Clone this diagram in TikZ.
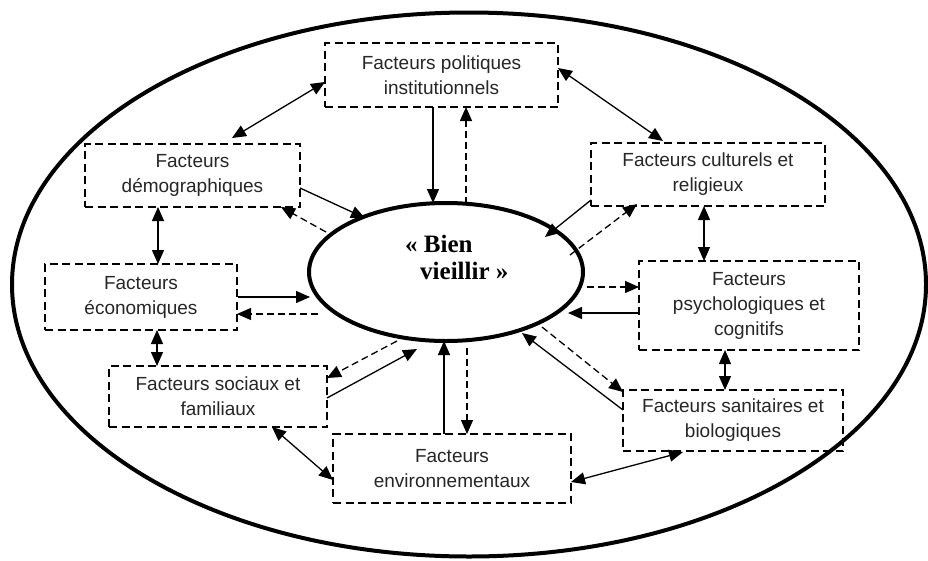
\documentclass[tikz,border=0pt]{standalone}
\usepackage{fontspec}
\setmainfont{Liberation Sans}
\newfontfamily\serifb{Liberation Serif}
\usetikzlibrary{arrows.meta,shapes.geometric}
\tikzset{
  factor/.style={draw, line width=1.8pt, dash pattern=on 8pt off 4.5pt, rectangle, inner sep=0pt,
    align=center, font=\fontsize{19}{25}\selectfont, text=black!85},
  tip/.tip={Triangle[length=14pt,width=12pt]},
  plainarrow/.style={line width=1.3pt, -tip},
  dasharrow/.style={line width=1.3pt, dash pattern=on 7pt off 4pt, -tip},
  botharrow/.style={line width=1.3pt, tip-tip},
  centretext/.style={anchor=base west, inner sep=0pt, font=\serifb\bfseries\fontsize{25}{28}\selectfont},
}
\begin{document}
\begin{tikzpicture}[x=1pt,y=-1pt]
\useasboundingbox (0,0) rectangle (928,560);
\fill[white] (0,0) rectangle (928,560);
% outer ellipse
\draw[line width=4pt] (469,284.5) ellipse [x radius=457pt, y radius=272pt];
% central ellipse
\node[draw, ellipse, line width=4pt, inner sep=0pt, minimum width=274pt, minimum height=138pt] (c) at (446,272) {};
\node[centretext] (t1) at (405,252) {« Bien};
\node[centretext] (t2) at (420,279) {vieillir »};
% boxes
\node[factor, minimum width=233pt, minimum height=64pt] (pol) at (441.5,75) {Facteurs politiques\\institutionnels};
\node[factor, minimum width=215pt, minimum height=63pt] (dem) at (192.5,175.5) {Facteurs\\démographiques};
\node[factor, minimum width=234pt, minimum height=63pt] (cul) at (708,174.5) {Facteurs culturels et\\religieux};
\node[factor, minimum width=192pt, minimum height=66pt] (eco) at (141,297) {Facteurs\\économiques};
\node[factor, minimum width=220pt, minimum height=89pt] (psy) at (749,305.5) {Facteurs\\psychologiques et\\cognitifs};
\node[factor, minimum width=218pt, minimum height=61pt] (soc) at (218,396.5) {Facteurs sociaux et\\familiaux};
\node[factor, minimum width=220pt, minimum height=61pt] (san) at (733,420.5) {Facteurs sanitaires et\\biologiques};
\node[factor, minimum width=238pt, minimum height=69pt] (env) at (452,468.5) {Facteurs\\environnementaux};
% free ends near the central ellipse
\coordinate (cB) at (433,203);
\coordinate (cC) at (466,204);
\coordinate (cE) at (365,218);
\coordinate (cF) at (326,232);
\coordinate (cH) at (310,297);
\coordinate (cI) at (318,314);
\coordinate (cK) at (397,341);
\coordinate (cL) at (417,349);
\coordinate (cN) at (444,341);
\coordinate (cO) at (467,348);
\coordinate (cQ) at (522,333);
\coordinate (cR) at (542,327);
\coordinate (cT) at (568,313);
\coordinate (cU) at (587,287);
\coordinate (cW) at (545,237);
\coordinate (cX) at (570,255);
% box-to-box double arrows
\draw[botharrow] ([shift={(39.5,-37.5)}]dem.center) -- ([shift={(-116.5,7)}]pol.center);
\draw[botharrow] ([shift={(116.5,-7)}]pol.center) -- ([shift={(-45,-33.5)}]cul.center);
\draw[botharrow] ([shift={(-34.5,31.5)}]dem.center) -- ([shift={(17,-33)}]eco.center);
\draw[botharrow] ([shift={(16,33)}]eco.center) -- ([shift={(-61,-30.5)}]soc.center);
\draw[botharrow] ([shift={(54,30.5)}]soc.center) -- ([shift={(-119,11.5)}]env.center);
\draw[botharrow] ([shift={(119,13.5)}]env.center) -- ([shift={(-50,31.5)}]san.center);
\draw[botharrow] ([shift={(-24,44.5)}]psy.center) -- ([shift={(-8,-30.5)}]san.center);
\draw[botharrow] ([shift={(-4,31.5)}]cul.center) -- ([shift={(-45,-44.5)}]psy.center);
% factor -> centre (solid)
\draw[plainarrow] ([shift={(-8.5,32)}]pol.center) -- (cB);
\draw[plainarrow] ([shift={(107.5,12.5)}]dem.center) -- (cE);
\draw[plainarrow] (eco.east) -- (cH);
\draw[plainarrow] ([shift={(109,1.5)}]soc.center) -- (cL);
\draw[plainarrow] ([shift={(-8,-34.5)}]env.center) -- (cN);
\draw[plainarrow] ([shift={(-110,-10.5)}]san.center) -- (cQ);
\draw[plainarrow] ([shift={(-110,7.5)}]psy.center) -- (cT);
\draw[plainarrow] ([shift={(-117,25.5)}]cul.center) -- (cW);
% centre -> factor (dashed)
\draw[dasharrow] (cC) -- ([shift={(24.5,32)}]pol.center);
\draw[dasharrow] (cF) -- ([shift={(88.5,31.5)}]dem.center);
\draw[dasharrow] (cI) -- ([shift={(96,17)}]eco.center);
\draw[dasharrow] (cK) -- ([shift={(109,-18.5)}]soc.center);
\draw[dasharrow] (cO) -- ([shift={(15,-34.5)}]env.center);
\draw[dasharrow] (cR) -- ([shift={(-110,-28.5)}]san.center);
\draw[dasharrow] (cU) -- ([shift={(-110,-18.5)}]psy.center);
\draw[dasharrow] (cX) -- ([shift={(-71,29.5)}]cul.center);
\end{tikzpicture}
\end{document}
